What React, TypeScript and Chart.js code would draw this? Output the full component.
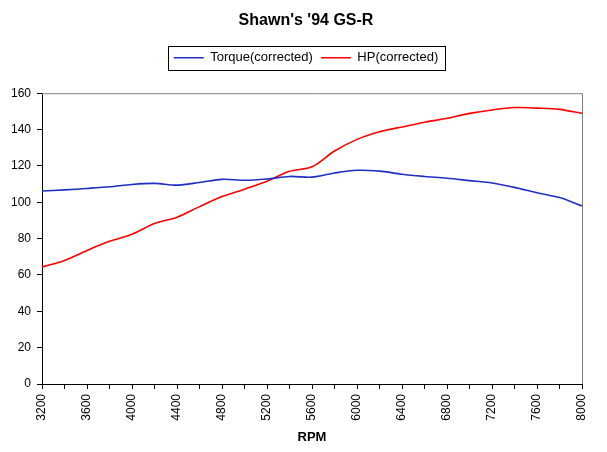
import { useEffect, useRef } from 'react';
import { Chart, registerables } from 'chart.js';

Chart.register(...registerables);

// Engine speed (RPM), one reading every 200 RPM
const rpm = [
  3200, 3400, 3600, 3800, 4000, 4200, 4400, 4600, 4800, 5000, 5200, 5400, 5600,
  5800, 6000, 6200, 6400, 6600, 6800, 7000, 7200, 7400, 7600, 7800, 8000,
];

const torque = [
  106.2, 106.8, 107.6, 108.5, 109.8, 110.4, 109.4, 110.9, 112.6, 112.1, 112.8, 114.2, 113.8,
  116.1, 117.6, 117.1, 115.4, 114.2, 113.2, 111.9, 110.6, 108.2, 105.2, 102.6, 98.0,
];

const hp = [
  64.4, 68.0, 73.5, 78.5, 82.4, 88.3, 91.8, 97.6, 103.1, 107.2, 111.6, 117.0, 119.5,
  128.2, 134.6, 138.8, 141.4, 144.0, 146.2, 148.9, 150.8, 152.1, 151.8, 151.1, 148.9,
];

// Only every other tick carries a label
const rpmLabels = [3200, 3600, 4000, 4400, 4800, 5200, 5600, 6000, 6400, 6800, 7200, 7600, 8000];

const FONT = "'Liberation Sans', Arial, sans-serif";

// gray frame on the top and right of the plot area (Excel style)
const plotFrame = {
  id: 'plotFrame',
  afterDatasetsDraw(chart: Chart) {
    const { ctx, chartArea } = chart;
    ctx.save();
    ctx.strokeStyle = '#808080';
    ctx.lineWidth = 1;
    ctx.beginPath();
    ctx.moveTo(chartArea.left, chartArea.top + 0.5);
    ctx.lineTo(chartArea.right + 0.5, chartArea.top + 0.5);
    ctx.lineTo(chartArea.right + 0.5, chartArea.bottom);
    ctx.stroke();
    ctx.restore();
  },
};

// extra room under the legend, centre title/legend on the whole canvas, box round the legend
const legendBox = {
  id: 'legendBox',
  beforeLayout(chart: any) {
    const legend = chart.legend;
    if (!legend || legend._patched) return;
    const fit = legend.fit;
    legend.fit = function () {
      fit.call(this);
      this.height += 19;
    };
    legend._patched = true;
  },
  afterLayout(chart: any) {
    const shift = 15;
    for (const box of [chart.legend, chart.titleBlock]) {
      if (!box) continue;
      box.left += shift;
      box.right += shift;
    }
  },
  afterDraw(chart: any) {
    const boxes = chart.legend?.legendHitBoxes;
    if (!boxes || !boxes.length) return;
    const left = Math.min(...boxes.map((b: any) => b.left)) - 6;
    const right = Math.max(...boxes.map((b: any) => b.left + b.width)) + 6;
    const top = boxes[0].top + boxes[0].height / 2 - 12;
    const { ctx } = chart;
    ctx.save();
    ctx.strokeStyle = '#000';
    ctx.lineWidth = 1;
    ctx.strokeRect(Math.round(left) + 0.5, Math.round(top) + 0.5, Math.round(right - left), 24);
    ctx.restore();
  },
};

export default function App() {
  const canvasRef = useRef<HTMLCanvasElement>(null);

  useEffect(() => {
    if (!canvasRef.current) return;
    const ctx = canvasRef.current.getContext('2d');
    if (!ctx) return;

    Chart.defaults.font.family = FONT;
    Chart.defaults.color = '#000';

    const chart = new Chart(ctx, {
      type: 'line',
      data: {
        datasets: [
          {
            label: 'Torque(corrected)',
            data: rpm.map((r, i) => ({ x: r, y: torque[i] })),
            borderColor: '#1f2fc4',
            backgroundColor: '#1f2fc4',
            borderWidth: 1.6,
            pointRadius: 0,
            tension: 0.3,
            fill: false,
          },
          {
            label: 'HP(corrected)',
            data: rpm.map((r, i) => ({ x: r, y: hp[i] })),
            borderColor: '#ff0000',
            backgroundColor: '#ff0000',
            borderWidth: 1.6,
            pointRadius: 0,
            tension: 0.3,
            fill: false,
          },
        ],
      },
      options: {
        responsive: false,
        animation: false,
        layout: { padding: { left: 0, right: 25, top: 0, bottom: 0 } },
        plugins: {
          title: {
            display: true,
            text: "Shawn's '94 GS-R",
            color: '#000',
            font: { size: 16, weight: 'bold', family: FONT },
            padding: { top: 11, bottom: 13 },
          },
          legend: {
            display: true,
            labels: {
              usePointStyle: true,
              pointStyle: 'line',
              pointStyleWidth: 30,
              padding: 8,
              color: '#000',
              font: { size: 13, family: FONT },
            },
          },
          tooltip: { enabled: false },
        },
        scales: {
          x: {
            type: 'linear',
            min: 3200,
            max: 8000,
            afterFit: (scale: any) => {
              scale.height = 68;
            },
            ticks: {
              stepSize: 200,
              autoSkip: false,
              minRotation: 90,
              maxRotation: 90,
              padding: 5,
              color: '#000',
              font: { size: 12, family: FONT },
              callback: (value: any) => (rpmLabels.includes(Number(value)) ? String(value) : ''),
            },
            grid: {
              display: true,
              drawOnChartArea: false,
              drawTicks: true,
              tickLength: 5,
              color: '#000',
            },
            border: { display: true, color: '#000', width: 1 },
            title: {
              display: true,
              text: 'RPM',
              color: '#000',
              font: { size: 13, weight: 'bold', family: FONT },
              padding: { top: 4, bottom: 7 },
            },
          },
          y: {
            min: 0,
            max: 160,
            afterFit: (scale: any) => {
              scale.width = 42;
            },
            ticks: {
              stepSize: 20,
              padding: 6,
              color: '#000',
              font: { size: 12, family: FONT },
            },
            grid: {
              display: true,
              drawOnChartArea: false,
              drawTicks: true,
              tickLength: 5,
              color: '#000',
            },
            border: { display: true, color: '#000', width: 1 },
          },
        },
      },
      plugins: [plotFrame, legendBox],
    });

    return () => {
      chart.destroy();
    };
  }, []);

  return (
    <div style={{ position: 'fixed', left: 0, top: 0, width: 607, height: 452, background: '#fff' }}>
      <canvas ref={canvasRef} width={607} height={452} />
    </div>
  );
}
